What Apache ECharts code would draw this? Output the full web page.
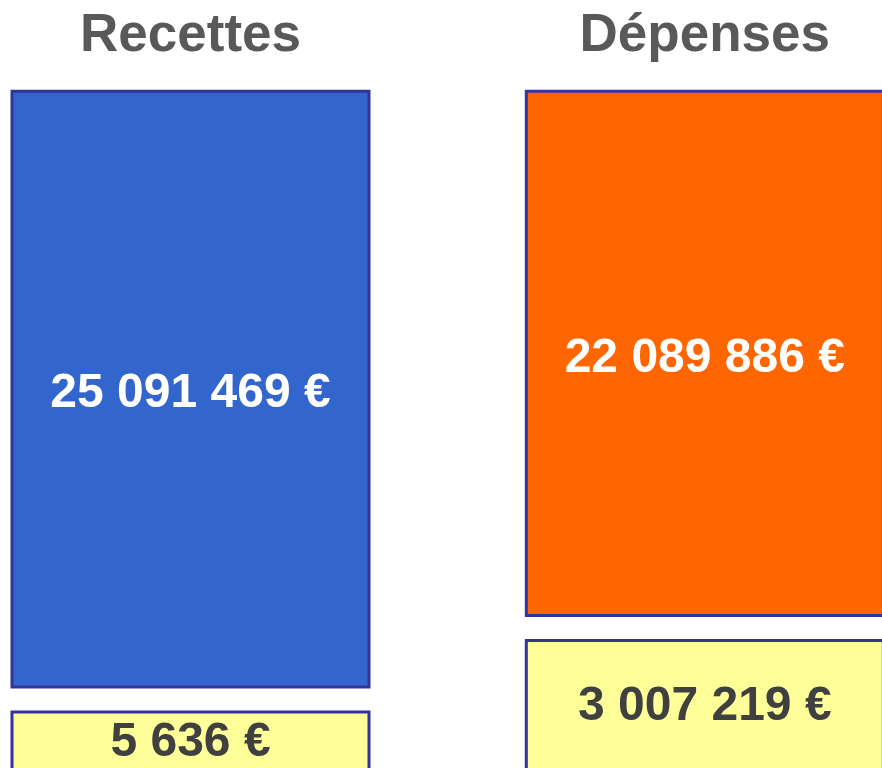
<!DOCTYPE html>
<html>
<head>
<meta charset="utf-8">
<title>Recettes / Dépenses</title>
<script src="https://cdn.jsdelivr.net/npm/echarts@6/dist/echarts.min.js"></script>
<style>
  html, body { margin: 0; padding: 0; background: #fff; }
  #chart { width: 882px; height: 768px; }
</style>
</head>
<body>
<div id="chart"></div>
<script>
// données
var categories = ['Recettes', 'Dépenses'];
var montants = [25091469, 22089886];   // blocs principaux
var soldes = [5636, 3007219];          // blocs jaunes du bas
var couleurs = ['#3366CC', '#FF6600'];

// mise en page (échelle verticale)
var yMax = 28600000;
var ecart = 920000;

function fmt(v) {
    return String(v).replace(/\B(?=(\d{3})+(?!\d))/g, ' ') + ' €';
}

var principal = [];
var vide = [];
var bas = [];
for (var i = 0; i < categories.length; i++) {
    principal.push({ value: montants[i], itemStyle: { color: couleurs[i] } });
    vide.push(ecart);
    bas.push(yMax - montants[i] - ecart);
}

var myChart = echarts.init(document.getElementById('chart'));
myChart.setOption({
    animation: false,
    grid: {
        left: -66.65, top: 89.8, width: 1028.6, height: 682.5,
        outerBoundsMode: 'none',
        containLabel: false
    },
    xAxis: {
        type: 'category',
        position: 'top',
        data: categories,
        axisLine: { show: false },
        axisTick: { show: false },
        axisLabel: {
            margin: 53,
            verticalAlign: 'middle',
            color: '#595959',
            fontSize: 53,
            fontWeight: 'bold',
            fontFamily: 'Liberation Sans, Arial, sans-serif'
        }
    },
    yAxis: {
        type: 'value',
        inverse: true,
        min: 0,
        max: yMax,
        show: false,
        splitLine: { show: false }
    },
    series: [{
        name: 'montant',
        type: 'bar',
        stack: 'total',
        barWidth: 360,
        itemStyle: { borderColor: '#333399', borderWidth: 3 },
        label: {
            show: true,
            position: 'inside',
            offset: [0, 5],
            color: '#fff',
            fontSize: 48,
            fontWeight: 'bold',
            fontFamily: 'Liberation Sans, Arial, sans-serif',
            formatter: function (p) { return fmt(montants[p.dataIndex]); }
        },
        data: principal
    }, {
        name: 'ecart',
        type: 'bar',
        stack: 'total',
        silent: true,
        itemStyle: { color: 'rgba(0,0,0,0)' },
        data: vide
    }, {
        name: 'solde',
        type: 'bar',
        stack: 'total',
        itemStyle: { color: '#FFFF99', borderColor: '#333399', borderWidth: 3 },
        label: {
            show: true,
            position: 'inside',
            offset: [0, 1],
            color: '#404040',
            fontSize: 48,
            fontWeight: 'bold',
            fontFamily: 'Liberation Sans, Arial, sans-serif',
            formatter: function (p) { return fmt(soldes[p.dataIndex]); }
        },
        data: bas
    }]
});
</script>
</body>
</html>
